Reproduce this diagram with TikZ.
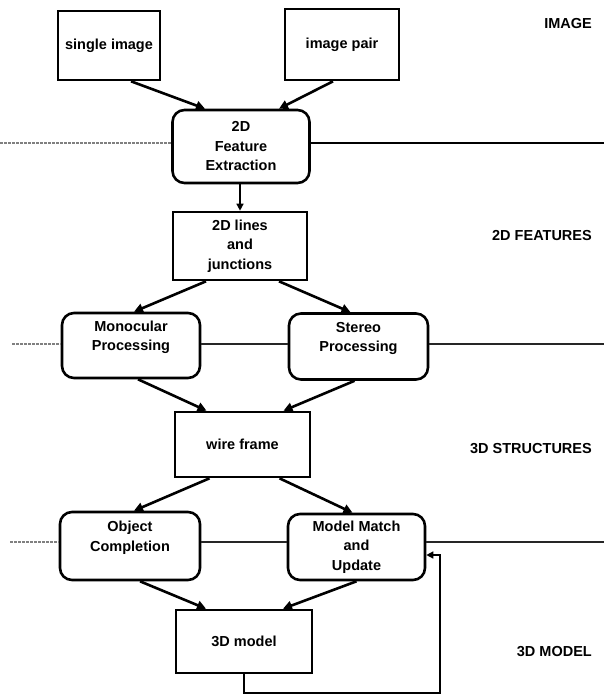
\documentclass[tikz,border=0pt]{standalone}
\usepackage{fontspec}
\setmainfont{Liberation Sans}
\usetikzlibrary{arrows.meta}
\begin{document}
\begin{tikzpicture}[x=1pt,y=-1pt,
  box/.style={draw, line width=2.6pt, inner sep=0pt, align=center,
    font=\fontsize{14.5}{19.5}\selectfont\bfseries},
  rbox/.style={box, rounded corners=12pt},
  lab/.style={anchor=east, inner sep=0pt, font=\fontsize{14.5}{16}\selectfont\bfseries},
  arr/.style={line width=2.6pt, -{Triangle[length=9pt,width=9pt]}},
  thinarr/.style={line width=1.4pt, -{Triangle[length=7pt,width=7pt]}},
  septhick/.style={line width=2.8pt},
  sepmed/.style={line width=1.8pt, black!85},
  sepfaint/.style={line width=1.3pt, black!50, dash pattern=on 3pt off 1pt},
]
\useasboundingbox (0,0) rectangle (604,696);

% boxes
\node[box, minimum width=102pt, minimum height=69pt] (single) at (109,45.5) {single image};
\node[box, minimum width=114pt, minimum height=71pt] (pair) at (342,44.5) {image pair};
\node[rbox, minimum width=137pt, minimum height=73pt] (fe) at (241,146.5) {2D\\Feature\\Extraction};
\node[box, minimum width=134pt, minimum height=68pt] (lines) at (240,246) {2D lines\\and\\junctions};
\node[rbox, minimum width=138pt, minimum height=65pt] (mono) at (131,345.5) {Monocular\\Processing\\~};
\node[rbox, minimum width=139pt, minimum height=66pt] (stereo) at (358.5,346.5) {Stereo\\Processing\\~};
\node[box, minimum width=135pt, minimum height=65pt] (wire) at (242.5,444.5) {wire frame};
\node[rbox, minimum width=140pt, minimum height=68pt] (oc) at (130,546) {Object\\Completion\\~};
\node[rbox, minimum width=137pt, minimum height=66pt] (mm) at (356.5,547) {Model Match\\and\\Update};
\node[box, minimum width=136pt, minimum height=63pt] (model) at (244,641.5) {3D model};

% level labels
\node[lab] (limage) at (592,24) {IMAGE};
\node[lab] (lfeat) at (592,236) {2D FEATURES};
\node[lab] (lstruct) at (592,449) {3D STRUCTURES};
\node[lab] (lmodel) at (592,652) {3D MODEL};

% separator lines
\coordinate (s1a) at (0,143);
\coordinate (s1b) at (604,143);
\draw[sepfaint] (s1a) -- (s1a -| fe.west);
\draw[septhick] (s1b -| fe.east) -- (s1b);
\coordinate (s2a) at (12,344);
\coordinate (s2b) at (604,344);
\draw[sepfaint] (s2a) -- (s2a -| mono.west);
\draw[sepmed] (s2a -| mono.east) -- (s2a -| stereo.west);
\draw[sepmed] (s2b -| stereo.east) -- (s2b);
\coordinate (s3a) at (10,542);
\coordinate (s3b) at (604,542);
\draw[sepfaint] (s3a) -- (s3a -| oc.west);
\draw[sepmed] (s3a -| oc.east) -- (s3a -| mm.west);
\draw[sepmed] (s3b -| mm.east) -- (s3b);

% arrows
\draw[arr] ([xshift=22pt]single.south) -- ([xshift=-36pt]fe.north);
\draw[arr] ([xshift=-9pt]pair.south) -- ([xshift=38pt]fe.north);
\draw[thinarr] ([xshift=-1pt]fe.south) -- (lines.north);
\draw[arr] ([xshift=-34pt]lines.south) -- ([xshift=3pt]mono.north);
\draw[arr] ([xshift=39pt]lines.south) -- ([xshift=-8pt]stereo.north);
\draw[arr] ([xshift=7pt]mono.south) -- ([xshift=-36pt]wire.north);
\draw[arr] ([xshift=-4pt]stereo.south) -- ([xshift=41pt]wire.north);
\draw[arr] ([xshift=-33pt]wire.south) -- ([xshift=4pt]oc.north);
\draw[arr] ([xshift=37pt]wire.south) -- ([xshift=-4pt]mm.north);
\draw[arr] ([xshift=10pt]oc.south) -- ([xshift=-38pt]model.north);
\draw[arr] (mm.south) -- ([xshift=39pt]model.north);

% feedback loop
\coordinate (fbc) at (440,693);
\coordinate (fbt) at (440,555);
\draw[thinarr] (model.south) |- (fbc) -- (fbt) -- (fbt -| mm.east);
\end{tikzpicture}
\end{document}
